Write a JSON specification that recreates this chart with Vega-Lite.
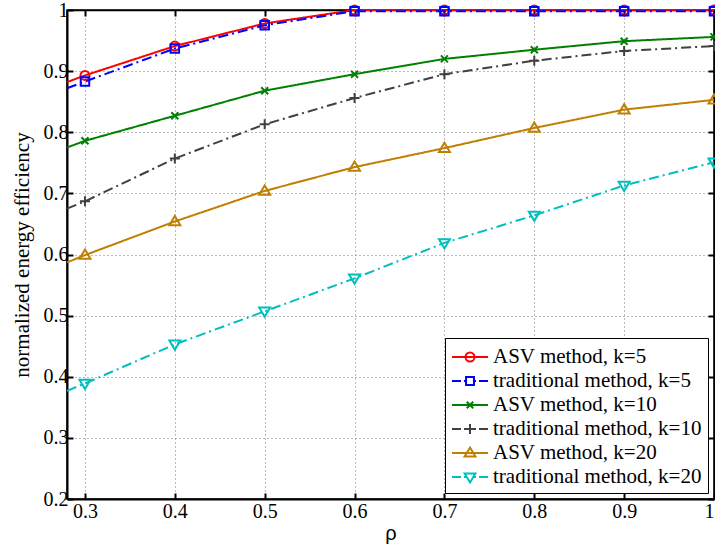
{
  "$schema": "https://vega.github.io/schema/vega-lite/v6.json",
  "width": 647,
  "height": 489,
  "autosize": {"type": "none"},
  "padding": {"left": 67, "top": 10, "right": 1, "bottom": 51},
  "background": "white",
  "config": {
    "view": {"stroke": "black", "strokeWidth": 1.5},
    "axis": {
      "domainColor": "black",
      "domainWidth": 2,
      "tickColor": "black",
      "tickWidth": 2,
      "tickSize": -6,
      "labelFont": "Liberation Serif",
      "labelFontSize": 20,
      "labelColor": "black",
      "titleFont": "Liberation Serif",
      "titleFontSize": 21,
      "titleFontWeight": "normal",
      "titleColor": "black",
      "gridColor": "#777777",
      "gridDash": [1, 3],
      "gridWidth": 1
    },
    "legend": {
      "labelFont": "Liberation Serif",
      "labelFontSize": 21,
      "labelColor": "black",
      "labelLimit": 0
    }
  },
  "data": {
    "values": [
      {"rho": 0.28, "eff": 0.882, "series": "ASV method, k=5"},
      {"rho": 0.3, "eff": 0.893, "series": "ASV method, k=5"},
      {"rho": 0.4, "eff": 0.941, "series": "ASV method, k=5"},
      {"rho": 0.5, "eff": 0.978, "series": "ASV method, k=5"},
      {"rho": 0.6, "eff": 1.0, "series": "ASV method, k=5"},
      {"rho": 0.7, "eff": 1.0, "series": "ASV method, k=5"},
      {"rho": 0.8, "eff": 1.0, "series": "ASV method, k=5"},
      {"rho": 0.9, "eff": 1.0, "series": "ASV method, k=5"},
      {"rho": 1.0, "eff": 1.0, "series": "ASV method, k=5"},
      {"rho": 0.28, "eff": 0.872, "series": "traditional method, k=5"},
      {"rho": 0.3, "eff": 0.883, "series": "traditional method, k=5"},
      {"rho": 0.4, "eff": 0.937, "series": "traditional method, k=5"},
      {"rho": 0.5, "eff": 0.975, "series": "traditional method, k=5"},
      {"rho": 0.6, "eff": 0.998, "series": "traditional method, k=5"},
      {"rho": 0.7, "eff": 0.998, "series": "traditional method, k=5"},
      {"rho": 0.8, "eff": 0.998, "series": "traditional method, k=5"},
      {"rho": 0.9, "eff": 0.998, "series": "traditional method, k=5"},
      {"rho": 1.0, "eff": 0.998, "series": "traditional method, k=5"},
      {"rho": 0.28, "eff": 0.775, "series": "ASV method, k=10"},
      {"rho": 0.3, "eff": 0.786, "series": "ASV method, k=10"},
      {"rho": 0.4, "eff": 0.827, "series": "ASV method, k=10"},
      {"rho": 0.5, "eff": 0.868, "series": "ASV method, k=10"},
      {"rho": 0.6, "eff": 0.895, "series": "ASV method, k=10"},
      {"rho": 0.7, "eff": 0.92, "series": "ASV method, k=10"},
      {"rho": 0.8, "eff": 0.935, "series": "ASV method, k=10"},
      {"rho": 0.9, "eff": 0.949, "series": "ASV method, k=10"},
      {"rho": 1.0, "eff": 0.956, "series": "ASV method, k=10"},
      {"rho": 0.28, "eff": 0.675, "series": "traditional method, k=10"},
      {"rho": 0.3, "eff": 0.687, "series": "traditional method, k=10"},
      {"rho": 0.4, "eff": 0.757, "series": "traditional method, k=10"},
      {"rho": 0.5, "eff": 0.813, "series": "traditional method, k=10"},
      {"rho": 0.6, "eff": 0.856, "series": "traditional method, k=10"},
      {"rho": 0.7, "eff": 0.895, "series": "traditional method, k=10"},
      {"rho": 0.8, "eff": 0.917, "series": "traditional method, k=10"},
      {"rho": 0.9, "eff": 0.933, "series": "traditional method, k=10"},
      {"rho": 1.0, "eff": 0.941, "series": "traditional method, k=10"},
      {"rho": 0.28, "eff": 0.587, "series": "ASV method, k=20"},
      {"rho": 0.3, "eff": 0.599, "series": "ASV method, k=20"},
      {"rho": 0.4, "eff": 0.654, "series": "ASV method, k=20"},
      {"rho": 0.5, "eff": 0.704, "series": "ASV method, k=20"},
      {"rho": 0.6, "eff": 0.743, "series": "ASV method, k=20"},
      {"rho": 0.7, "eff": 0.774, "series": "ASV method, k=20"},
      {"rho": 0.8, "eff": 0.807, "series": "ASV method, k=20"},
      {"rho": 0.9, "eff": 0.837, "series": "ASV method, k=20"},
      {"rho": 1.0, "eff": 0.853, "series": "ASV method, k=20"},
      {"rho": 0.28, "eff": 0.377, "series": "traditional method, k=20"},
      {"rho": 0.3, "eff": 0.389, "series": "traditional method, k=20"},
      {"rho": 0.4, "eff": 0.453, "series": "traditional method, k=20"},
      {"rho": 0.5, "eff": 0.507, "series": "traditional method, k=20"},
      {"rho": 0.6, "eff": 0.561, "series": "traditional method, k=20"},
      {"rho": 0.7, "eff": 0.619, "series": "traditional method, k=20"},
      {"rho": 0.8, "eff": 0.664, "series": "traditional method, k=20"},
      {"rho": 0.9, "eff": 0.713, "series": "traditional method, k=20"},
      {"rho": 1.0, "eff": 0.751, "series": "traditional method, k=20"}
    ]
  },
  "resolve": {
    "scale": {"color": "independent", "shape": "independent"},
    "axis": {"x": "independent", "y": "independent"}
  },
  "layer": [
    {
      "mark": {"type": "line", "strokeWidth": 2},
      "encoding": {
        "x": {
          "field": "rho", "type": "quantitative",
          "scale": {"domain": [0.28, 1.0], "nice": false, "zero": false},
          "axis": {"orient": "bottom", "values": [0.3, 0.4, 0.5, 0.6, 0.7, 0.8, 0.9, 1.0], "format": "~g", "grid": true, "labelPadding": 8, "title": "ρ", "titleFont": "Liberation Sans", "titleFontSize": 20, "titlePadding": 2}
        },
        "y": {
          "field": "eff", "type": "quantitative",
          "scale": {"domain": [0.2, 1.0], "nice": false, "zero": false},
          "axis": {"orient": "left", "values": [0.2, 0.3, 0.4, 0.5, 0.6, 0.7, 0.8, 0.9, 1.0], "format": "~g", "grid": true, "labelPadding": 5, "title": "normalized energy efficiency", "titlePadding": 11}
        },
        "color": {
          "field": "series", "type": "nominal", "legend": null,
          "scale": {
            "domain": ["ASV method, k=5", "traditional method, k=5", "ASV method, k=10", "traditional method, k=10", "ASV method, k=20", "traditional method, k=20"],
            "range": ["#ff0000", "#0000ff", "#008000", "#404040", "#bf7f00", "#00bfbf"]
          }
        },
        "strokeDash": {
          "field": "series", "type": "nominal", "legend": null,
          "scale": {
            "domain": ["ASV method, k=5", "traditional method, k=5", "ASV method, k=10", "traditional method, k=10", "ASV method, k=20", "traditional method, k=20"],
            "range": [[1, 0], [10, 4, 2, 4], [1, 0], [10, 4, 2, 4], [1, 0], [10, 4, 2, 4]]
          }
        }
      }
    },
    {
      "transform": [{"filter": "datum.rho >= 0.299"}],
      "mark": {"type": "point", "filled": false, "size": 100, "strokeWidth": 2, "opacity": 1},
      "encoding": {
        "x": {
          "field": "rho", "type": "quantitative",
          "axis": {"orient": "top", "values": [0.3, 0.4, 0.5, 0.6, 0.7, 0.8, 0.9, 1.0], "labels": false, "grid": false, "title": null, "domainWidth": 1.5}
        },
        "y": {
          "field": "eff", "type": "quantitative",
          "axis": {"orient": "right", "values": [0.2, 0.3, 0.4, 0.5, 0.6, 0.7, 0.8, 0.9, 1.0], "labels": false, "grid": false, "title": null, "domainWidth": 1.5}
        },
        "color": {
          "field": "series", "type": "nominal", "legend": null,
          "scale": {
            "domain": ["ASV method, k=5", "traditional method, k=5", "ASV method, k=10", "traditional method, k=10", "ASV method, k=20", "traditional method, k=20"],
            "range": ["#ff0000", "#0000ff", "#008000", "#404040", "#bf7f00", "#00bfbf"]
          }
        },
        "shape": {
          "field": "series", "type": "nominal", "legend": null,
          "scale": {
            "domain": ["ASV method, k=5", "traditional method, k=5", "ASV method, k=10", "traditional method, k=10", "ASV method, k=20", "traditional method, k=20"],
            "range": [
              "M0.9,0A0.9,0.9,0,1,1,-0.9,0A0.9,0.9,0,1,1,0.9,0Z",
              "M-0.85,-0.85L0.85,-0.85L0.85,0.85L-0.85,0.85Z",
              "M-0.7,-0.7L0.7,0.7M-0.7,0.7L0.7,-0.7",
              "M-1,0L1,0M0,-1L0,1",
              "M0,-1.1L1.1,0.75L-1.1,0.75Z",
              "M0,1.1L1.1,-0.75L-1.1,-0.75Z"
            ]
          }
        }
      }
    },
    {
      "mark": {"type": "point", "filled": false, "opacity": 0},
      "encoding": {
        "x": {"field": "rho", "type": "quantitative", "axis": null},
        "y": {"field": "eff", "type": "quantitative", "axis": null},
        "color": {
          "field": "series", "type": "nominal",
          "scale": {
            "domain": ["ASV method, k=5", "traditional method, k=5", "ASV method, k=10", "traditional method, k=10", "ASV method, k=20", "traditional method, k=20"],
            "range": ["#ff0000", "#0000ff", "#008000", "#404040", "#bf7f00", "#00bfbf"]
          },
          "legend": {
            "title": null, "orient": "bottom-right", "offset": 6,
            "strokeColor": "black", "fillColor": "white", "padding": 6,
            "symbolSize": 576, "symbolStrokeWidth": 2, "symbolOpacity": 1,
            "labelOffset": 16, "rowPadding": 1
          }
        },
        "shape": {
          "field": "series", "type": "nominal",
          "scale": {
            "domain": ["ASV method, k=5", "traditional method, k=5", "ASV method, k=10", "traditional method, k=10", "ASV method, k=20", "traditional method, k=20"],
            "range": [
              "M-1,0L2,0M0.875,0A0.375,0.375,0,1,1,0.125,0A0.375,0.375,0,1,1,0.875,0Z",
              "M-1,0L-0.25,0M0,0L0.17,0M0.83,0L1,0M1.25,0L2,0M0.17,-0.33L0.83,-0.33L0.83,0.33L0.17,0.33Z",
              "M-1,0L2,0M0.23,-0.27L0.77,0.27M0.23,0.27L0.77,-0.27",
              "M-1,0L-0.25,0M0,0L0.17,0M0.83,0L1,0M1.25,0L2,0M0.08,0L0.92,0M0.5,-0.42L0.5,0.42",
              "M-1,0L2,0M0.5,-0.45L0.95,0.3L0.05,0.3Z",
              "M-1,0L-0.25,0M0,0L0.17,0M0.83,0L1,0M1.25,0L2,0M0.5,0.45L0.95,-0.3L0.05,-0.3Z"
            ]
          },
          "legend": {"title": null}
        }
      }
    }
  ]
}
